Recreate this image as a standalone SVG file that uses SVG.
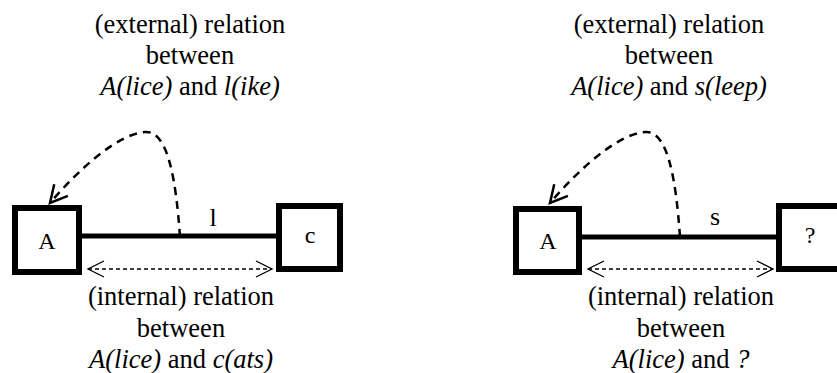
<svg xmlns="http://www.w3.org/2000/svg" width="837" height="373" viewBox="0 0 837 373" font-family="'Liberation Serif', 'DejaVu Serif', 'Times New Roman', serif">
  <style>
    text { font-family: 'Liberation Serif', 'DejaVu Serif', 'Times New Roman', serif; fill: #000; }
    .cap { font-size: 26.5px; text-anchor: middle; }
    .lbl { font-size: 24px; text-anchor: middle; }
    .edge { font-size: 26px; text-anchor: middle; }
    .it { font-style: italic; }
    .box { fill: #fff; stroke: #000; stroke-width: 6; }
    .link { fill: none; stroke: #000; stroke-width: 5; }
    .ext { fill: none; stroke: #000; stroke-width: 2.5; stroke-dasharray: 8 6; }
    .int { fill: none; stroke: #000; stroke-width: 1.3; stroke-dasharray: 4 3; }
  </style>
  <defs>
    <marker id="chevBig" markerUnits="userSpaceOnUse" markerWidth="24" markerHeight="24" viewBox="-20 -12 24 24" refX="0" refY="0" orient="auto">
      <path d="M-17,-9 L0,0 L-17,9" fill="none" stroke="#000" stroke-width="2.5"/>
    </marker>
    <marker id="chevSmall" markerUnits="userSpaceOnUse" markerWidth="24" markerHeight="24" viewBox="-20 -12 24 24" refX="0" refY="0" orient="auto-start-reverse">
      <path d="M-16,-8 L0,0 L-16,8" fill="none" stroke="#000" stroke-width="1.3"/>
    </marker>
  </defs>

  <!-- captions -->
  <text class="cap" x="190" y="33">(external) relation</text>
  <text class="cap" x="190" y="64">between</text>
  <text class="cap" x="190" y="95"><tspan class="it">A(lice)</tspan> and <tspan class="it">l(ike)</tspan></text>

  <text class="cap" x="669" y="33">(external) relation</text>
  <text class="cap" x="669" y="64">between</text>
  <text class="cap" x="669" y="95"><tspan class="it">A(lice)</tspan> and <tspan class="it">s(leep)</tspan></text>

  <text class="cap" x="181" y="305">(internal) relation</text>
  <text class="cap" x="181" y="337">between</text>
  <text class="cap" x="181" y="368"><tspan class="it">A(lice)</tspan> and <tspan class="it">c(ats)</tspan></text>

  <text class="cap" x="681" y="305">(internal) relation</text>
  <text class="cap" x="681" y="337">between</text>
  <text class="cap" x="681" y="368"><tspan class="it">A(lice)</tspan> and <tspan class="it">?</tspan></text>

  <!-- connectors -->
  <g id="connectors">
    <line class="link" x1="82" y1="236" x2="277" y2="236"/>
    <line class="link" x1="582" y1="237" x2="777" y2="237"/>
    <path class="ext" d="M180,237 C176,180 168,130 145,132 C118,134 80,168 50,203" marker-end="url(#chevBig)"/>
    <path class="ext" d="M680,237 C676,180 668,130 645,132 C618,134 580,168 550,203" marker-end="url(#chevBig)"/>
    <line class="int" x1="88" y1="269" x2="272" y2="269" marker-start="url(#chevSmall)" marker-end="url(#chevSmall)"/>
    <line class="int" x1="588" y1="269" x2="773" y2="269" marker-start="url(#chevSmall)" marker-end="url(#chevSmall)"/>
    <text class="edge" x="213" y="226">l</text>
    <text class="edge" x="715" y="225">s</text>
  </g>

  <!-- nodes -->
  <g id="nodeA1">
    <rect class="box" x="15" y="208" width="64" height="64"/>
    <text class="lbl" x="47" y="249">A</text>
  </g>
  <g id="nodeC">
    <rect class="box" x="279" y="206" width="61" height="63"/>
    <text class="lbl" x="310" y="243">c</text>
  </g>
  <g id="nodeA2">
    <rect class="box" x="516" y="209" width="63" height="63"/>
    <text class="lbl" x="548" y="249">A</text>
  </g>
  <g id="nodeQ">
    <rect class="box" x="779" y="206" width="70" height="63"/>
    <text class="lbl" x="810" y="243">?</text>
  </g>
</svg>
